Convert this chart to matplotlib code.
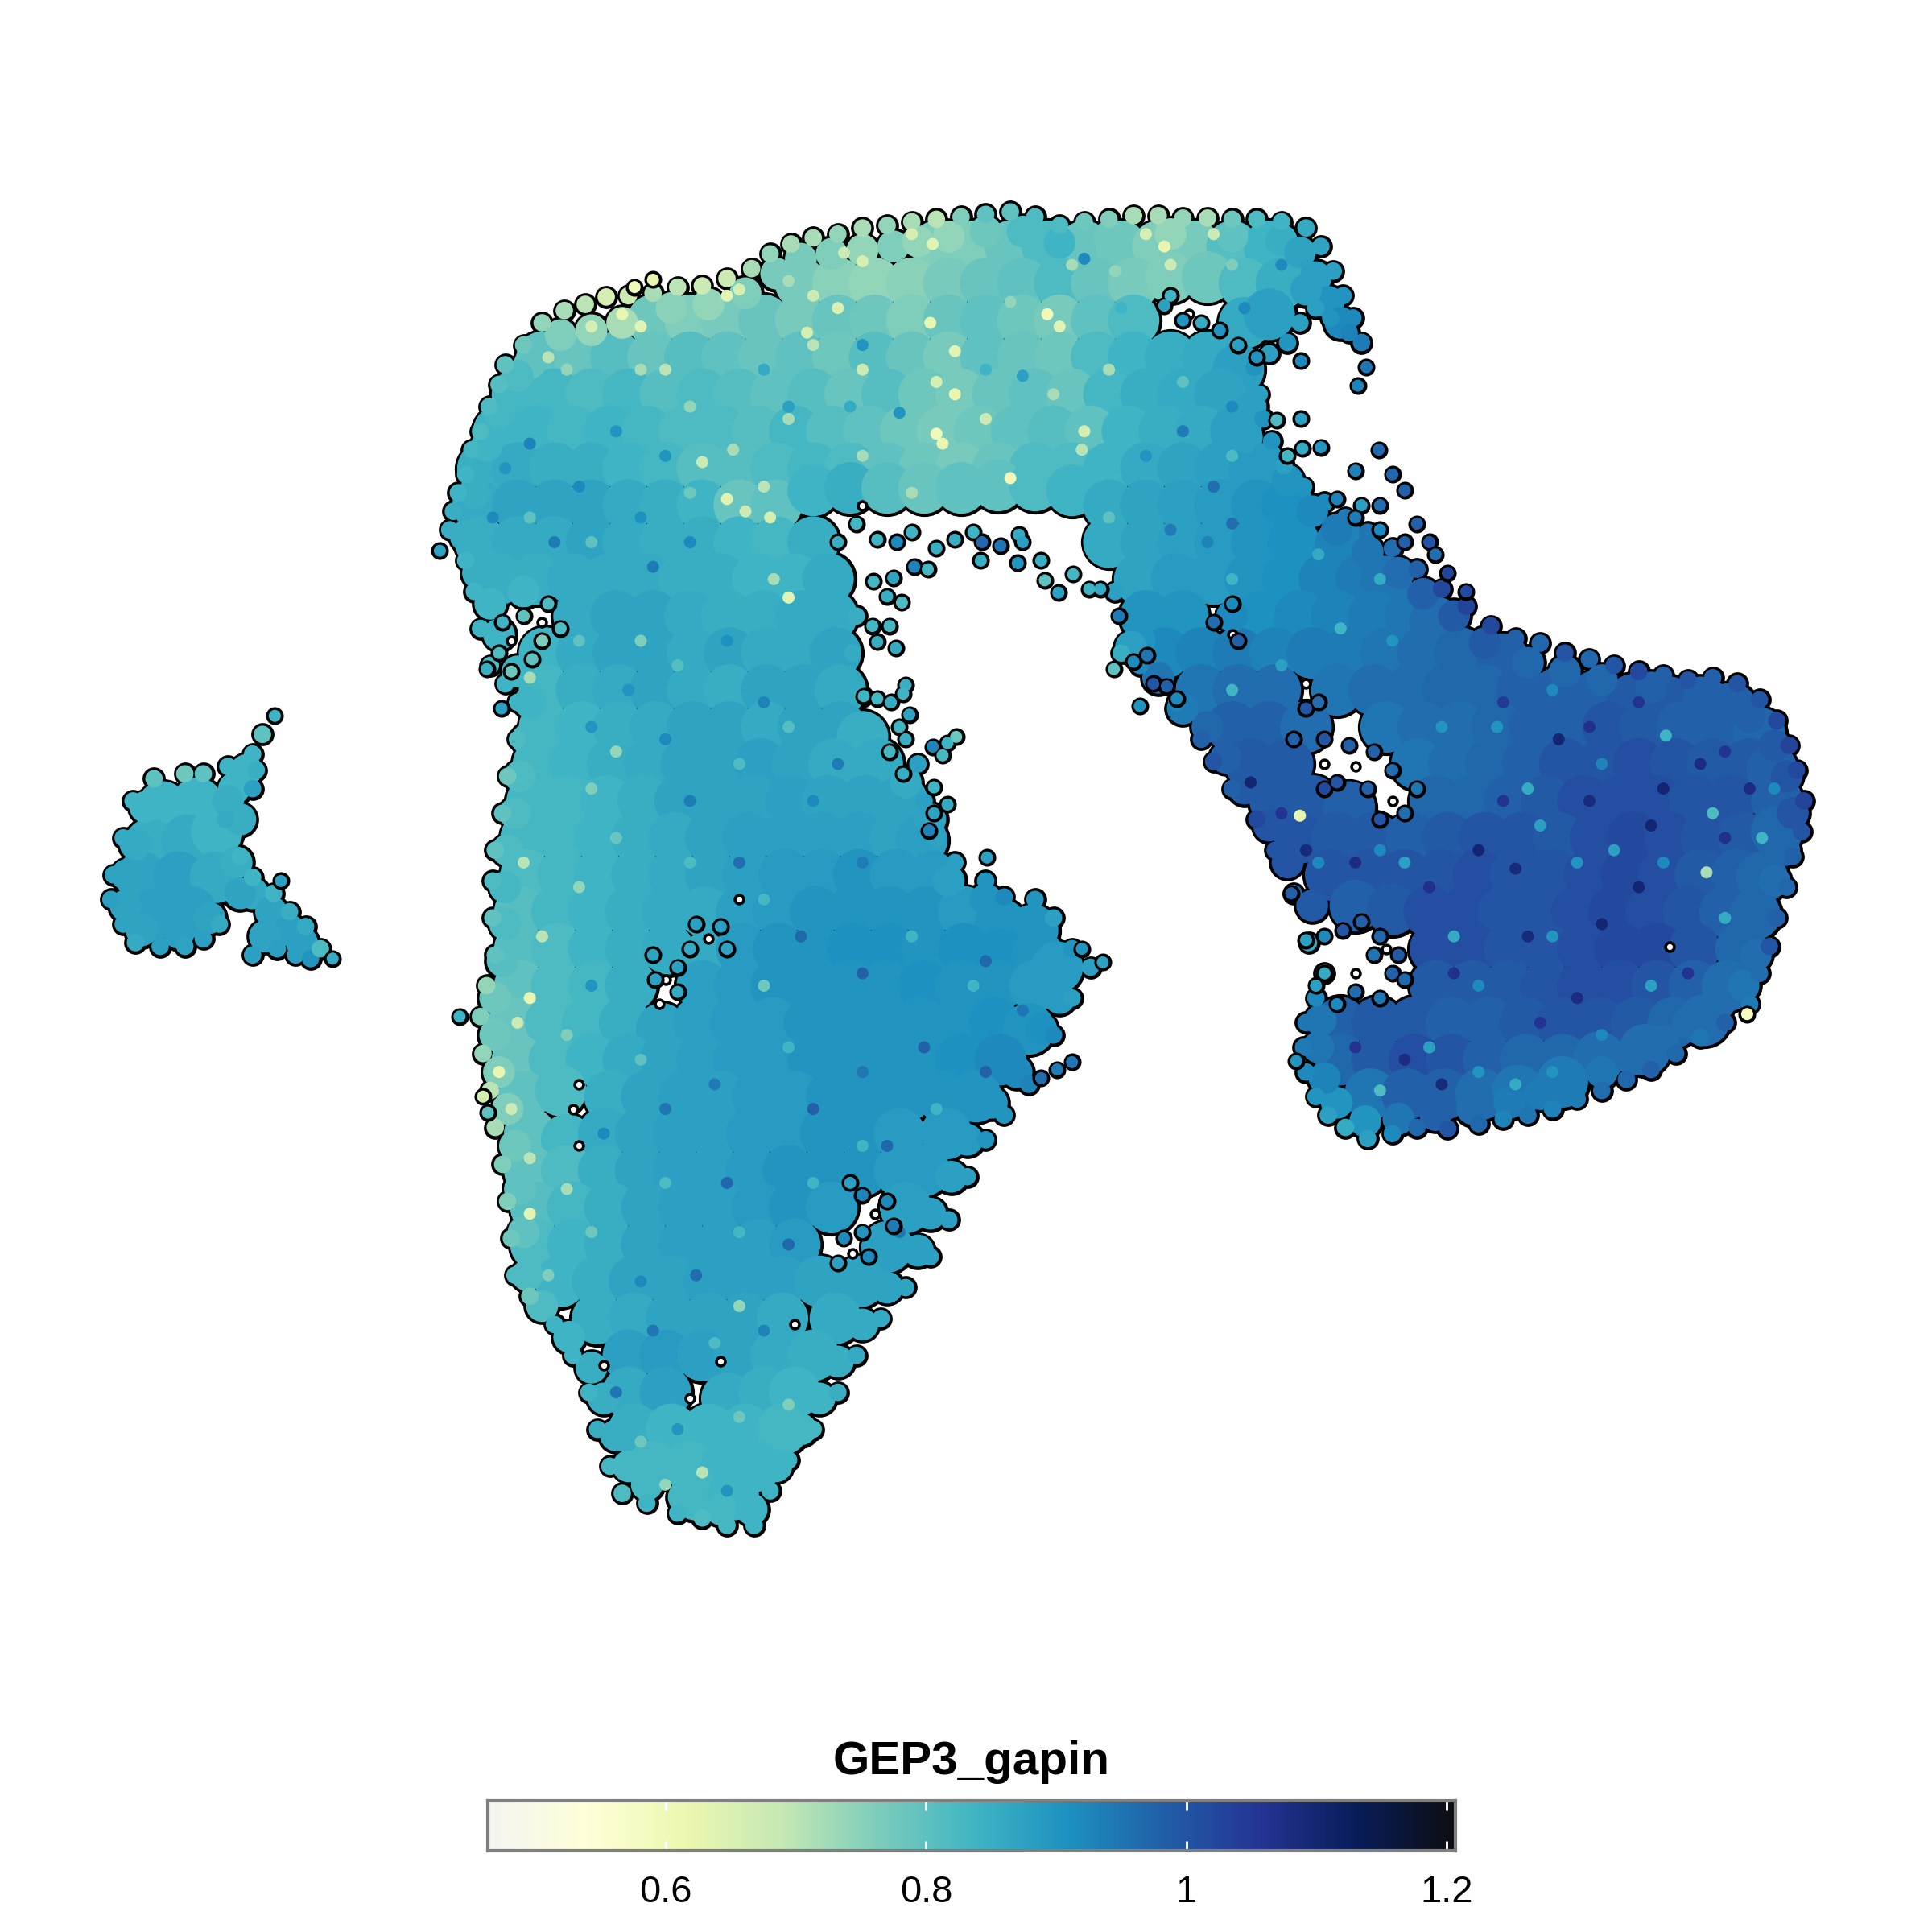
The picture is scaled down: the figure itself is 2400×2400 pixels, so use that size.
"""Feature plot of the GEP3_gapin score on an embedding, with a horizontal colour bar."""

import matplotlib

matplotlib.use("Agg")
import matplotlib.pyplot as plt
import numpy as np
from matplotlib.colors import LinearSegmentedColormap, Normalize

PALETTE = ["#f5f5f2", "#ffffd9", "#edf8b1", "#c7e9b4", "#7fcdbb", "#41b6c4",
           "#1d91c0", "#225ea8", "#253494", "#081d58", "#0e0e12"]
SCORE_MIN = 0.463
SCORE_MAX = 1.207
COLORBAR_TICKS = [0.6, 0.8, 1.0, 1.2]
COLORBAR_LABELS = ["0.6", "0.8", "1", "1.2"]
LEGEND_TITLE = "GEP3_gapin"

# Coarse read of the dense cell cloud, row by row: (x, y, score)
top_band = [
    (760,200,.76),(790,200,.76),(820,200,.79),(850,200,.82),(880,200,.79),(910,200,.78),(940,200,.76),(970,200,.77),(1000,200,.81),(1030,200,.84),
    (650,230,.77),(680,230,.75),(710,230,.74),(740,230,.75),(770,230,.77),(800,230,.79),(830,230,.8),(860,230,.82),(890,230,.79),(920,230,.77),(950,225,.76),(980,225,.78),(1010,230,.82),(1040,230,.85),
    (530,260,.78),(560,260,.76),(590,260,.77),(620,260,.79),(650,260,.77),(680,260,.79),(710,260,.78),(740,260,.76),(770,260,.79),(800,260,.8),(830,260,.78),(860,260,.77),(890,260,.8),(920,260,.82),(1010,262,.86),(1030,255,.88),
    (440,290,.8),(470,290,.79),(500,290,.81),(530,290,.79),(560,290,.81),(590,290,.8),(620,290,.79),(650,290,.8),(680,290,.78),(710,290,.81),(740,290,.79),(770,290,.77),(800,290,.8),(830,290,.79),(860,290,.78),(890,290,.82),(920,290,.84),(950,290,.85),(980,290,.86),(1005,300,.88),
    (420,320,.83),(450,320,.83),(480,320,.82),(510,320,.83),(540,320,.81),(570,320,.82),(600,320,.81),(630,320,.8),(660,320,.81),(690,320,.79),(720,320,.81),(750,320,.78),(780,320,.77),(810,320,.79),(840,320,.8),(870,320,.79),(900,320,.83),(930,320,.85),(960,320,.86),(990,320,.87),
    (405,350,.84),(435,350,.84),(465,350,.83),(495,350,.84),(525,350,.83),(555,350,.82),(585,350,.82),(615,350,.81),(645,350,.83),(675,350,.81),(705,350,.8),(735,350,.78),(765,350,.77),(795,350,.78),(825,350,.8),(855,350,.81),(885,350,.8),(915,350,.84),(945,350,.85),(975,350,.86),(1003,350,.88),
    (392,380,.85),(420,380,.86),(450,380,.85),(480,380,.85),(510,380,.84),(540,380,.83),(570,380,.81),(600,380,.81),(630,380,.82),(660,380,.83),(690,380,.82),(720,380,.8),(750,380,.78),(780,380,.77),(810,380,.79),(840,380,.82),(870,380,.82),(900,380,.84),(930,380,.86),(960,380,.87),(990,380,.88),(1018,382,.89),
    (388,410,.86),(420,410,.87),(450,410,.87),(480,410,.87),(510,410,.86),(540,410,.85),(570,410,.84),(600,410,.79),(630,410,.8),(660,398,.84),(690,396,.85),(720,396,.81),(750,396,.79),(780,396,.8),(810,394,.8),(840,394,.82),(870,398,.84),(900,410,.86),(930,410,.87),(960,410,.88),(990,410,.89),(1020,410,.9),(1045,410,.91),
]
left_limb = [
    (390,440,.85),(420,440,.86),(450,440,.86),(480,440,.87),(510,440,.86),(540,440,.85),(570,440,.85),(600,440,.84),(630,440,.83),(660,440,.85),
    (405,470,.85),(435,470,.85),(465,470,.86),(495,470,.86),(525,470,.86),(555,470,.85),(585,470,.85),(615,470,.84),(645,470,.84),(672,470,.86),
    (470,500,.86),(500,500,.87),(530,500,.87),(560,500,.86),(590,500,.85),(620,500,.85),(650,500,.86),(675,500,.86),
    (442,530,.84),(472,530,.86),(502,530,.87),(532,530,.87),(562,530,.86),(592,530,.87),(622,530,.86),(652,530,.86),(678,530,.87),
    (442,560,.83),(472,560,.85),(502,560,.86),(532,560,.87),(562,560,.86),(592,560,.85),(622,560,.87),(652,560,.87),(682,560,.86),
    (442,590,.83),(472,590,.84),(502,590,.85),(532,590,.86),(562,590,.87),(592,590,.87),(622,590,.86),(652,590,.87),(682,590,.87),(700,598,.85),
    (437,620,.83),(467,620,.84),(497,620,.85),(527,620,.86),(557,620,.87),(587,620,.87),(617,620,.88),(647,620,.87),(677,620,.86),(712,620,.86),
    (432,650,.83),(462,650,.83),(492,650,.84),(522,650,.85),(552,650,.87),(582,650,.87),(612,650,.87),(642,650,.88),(672,650,.87),(702,650,.87),(732,650,.87),
    (427,680,.83),(457,680,.83),(487,680,.84),(517,680,.85),(547,680,.86),(577,680,.87),(607,680,.88),(637,680,.88),(667,680,.88),(697,680,.88),(727,680,.87),(748,682,.88),
    (427,710,.82),(457,710,.83),(487,710,.84),(517,710,.85),(547,710,.86),(577,710,.87),(607,710,.88),(637,710,.89),(667,710,.89),(697,710,.9),(727,710,.89),(757,712,.89),
    (422,740,.81),(452,740,.83),(482,740,.84),(512,740,.85),(542,740,.86),(572,740,.86),(602,740,.88),(632,740,.89),(662,740,.9),(692,740,.9),(722,740,.9),(752,740,.9),(782,740,.89),(812,750,.9),(838,755,.9),
    (422,770,.81),(452,770,.82),(482,770,.84),(512,770,.85),(542,770,.86),(572,778,.86),(602,770,.89),(632,770,.9),(662,770,.9),(692,770,.91),(722,770,.91),(752,770,.9),(782,770,.91),(812,775,.91),(842,775,.9),(858,785,.89),
]
lower_body = [
    (422,800,.8),(452,800,.82),(482,800,.83),(512,800,.85),(570,800,.88),(600,800,.89),(630,800,.9),(660,800,.9),(690,800,.9),(720,800,.9),(750,800,.91),(780,800,.9),(810,800,.9),(840,800,.89),
    (417,830,.79),(447,830,.82),(477,830,.83),(507,830,.85),(537,835,.87),(567,830,.88),(597,830,.89),(627,830,.89),(657,830,.9),(687,830,.9),(717,830,.9),(747,830,.9),(777,830,.9),(807,830,.91),(835,835,.9),
    (420,860,.79),(450,860,.82),(480,860,.84),(510,860,.86),(540,860,.87),(570,860,.88),(600,860,.89),(630,860,.89),(660,860,.9),(690,860,.9),(720,860,.9),(750,860,.9),(780,860,.91),(812,860,.92),
    (425,890,.8),(455,885,.82),(495,890,.85),(525,890,.87),(555,890,.88),(585,890,.88),(615,890,.89),(645,890,.89),(675,890,.9),(705,890,.9),(735,890,.9),(765,890,.9),(792,890,.9),
    (430,920,.8),(460,925,.83),(490,920,.86),(520,920,.87),(550,920,.88),(580,920,.88),(610,920,.89),(640,920,.89),(670,920,.9),(700,920,.9),(730,920,.89),(768,920,.89),
    (430,950,.8),(460,950,.82),(490,950,.85),(520,950,.87),(550,950,.88),(580,950,.88),(610,950,.89),(640,950,.9),(670,950,.9),(700,950,.9),(730,950,.89),(750,950,.89),
    (435,980,.81),(465,980,.83),(495,980,.85),(525,980,.87),(555,980,.88),(585,980,.88),(615,980,.89),(645,980,.9),(675,980,.89),(735,980,.88),
    (435,1010,.82),(465,1010,.84),(495,1010,.85),(525,1010,.87),(555,1010,.88),(585,1010,.88),(615,1010,.88),(645,1010,.89),(720,1012,.88),
    (455,1040,.84),(485,1040,.85),(515,1040,.87),(545,1040,.87),(575,1040,.88),(605,1040,.88),(635,1040,.88),(665,1040,.87),(698,1040,.87),
    (485,1070,.85),(515,1070,.86),(545,1070,.87),(575,1070,.87),(605,1070,.87),(635,1070,.86),(678,1070,.86),
    (510,1100,.88),(540,1100,.89),(570,1100,.88),(600,1100,.87),(630,1100,.86),(660,1100,.85),
    (510,1130,.86),(540,1130,.88),(590,1135,.86),(620,1130,.85),(645,1130,.84),
    (515,1160,.85),(545,1160,.84),(575,1160,.84),(605,1160,.84),(635,1160,.83),
    (530,1190,.83),(560,1190,.83),(590,1190,.84),(613,1190,.84),
    (565,1213,.83),(595,1213,.84),
]
right_arc = [
    (900,440,.86),(930,440,.87),(960,440,.88),(990,440,.89),(1020,440,.9),(1050,440,.91),(1088,442,.93),
    (925,470,.87),(955,470,.89),(985,470,.89),(1015,470,.9),(1045,470,.91),(1075,470,.93),(1105,470,.94),(1125,472,.95),
    (930,500,.9),(960,500,.9),(1025,500,.91),(1055,500,.92),(1085,500,.93),(1115,500,.94),(1145,500,.95),(1165,505,.96),
    (945,530,.92),(975,530,.93),(1005,530,.94),(1035,530,.93),(1065,530,.94),(1095,530,.94),(1125,530,.95),(1155,530,.96),(1185,530,.97),(1220,535,.98),
    (975,560,.95),(1005,560,.96),(1035,560,.96),(1085,560,.95),(1115,560,.96),(1145,560,.96),(1175,560,.97),(1205,560,.97),(1235,560,.98),(1265,562,.98),(1295,565,.98),(1325,568,.99),(1355,570,.99),(1385,572,.98),(1405,575,.98),
    (1000,590,.98),(1030,590,.98),(1060,590,.96),(1125,590,.95),(1155,590,.96),(1185,590,.96),(1215,590,.97),(1245,590,.98),(1275,590,.98),(1305,590,1.0),(1335,590,.99),(1365,590,.98),(1395,590,.98),(1428,595,.97),
    (1015,620,.99),(1045,620,.99),(1150,620,.95),(1180,620,.96),(1210,620,.97),(1240,620,.98),(1270,620,1.0),(1300,620,1.0),(1330,620,1.01),(1360,620,1.0),(1390,620,.99),(1420,620,.99),(1438,625,.98),
    (1035,650,.99),(1065,650,.99),(1095,655,.98),(1165,650,.97),(1195,650,.97),(1225,650,.98),(1255,650,.99),(1285,650,1.01),(1315,650,1.01),(1345,650,1.01),(1375,650,1.0),(1405,650,1.0),(1442,650,.98),
    (1055,680,1.0),(1085,680,.99),(1115,680,.99),(1145,680,.98),(1175,680,.99),(1205,680,1.0),(1235,680,1.0),(1265,680,.99),(1295,680,1.01),(1325,680,1.02),(1355,680,1.01),(1385,680,1.0),(1415,680,.99),(1442,675,.97),
    (1080,710,1.0),(1110,710,1.0),(1140,710,1.0),(1170,710,1.0),(1200,710,1.01),(1230,710,1.0),(1260,710,1.0),(1290,710,1.01),(1320,710,1.02),(1350,710,1.01),(1380,710,.99),(1410,710,.98),(1430,712,.97),
    (1100,735,.98),(1130,738,.99),(1160,740,1.01),(1190,740,1.01),(1220,740,1.0),(1250,740,1.0),(1280,740,1.01),(1310,740,1.02),(1340,740,1.01),(1370,740,1.0),(1400,740,.98),(1424,742,.97),
    (1165,770,1.01),(1195,770,1.01),(1225,770,1.0),(1255,770,1.0),(1285,770,1.01),(1315,770,1.02),(1345,770,1.02),(1375,770,1.0),(1413,770,.97),
    (1165,800,.99),(1195,800,.99),(1225,800,.99),(1255,800,1.0),(1285,800,1.01),(1315,800,1.01),(1345,800,1.0),(1375,800,.98),(1402,800,.96),
    (1088,830,.98),(1118,830,.99),(1148,830,.99),(1178,830,.98),(1208,830,.98),(1238,830,.99),(1268,830,1.0),(1298,830,1.0),(1328,830,.99),(1358,830,.97),(1383,828,.96),
    (1088,860,.97),(1118,860,.99),(1148,860,1.01),(1178,860,1.0),(1208,860,.98),(1238,860,.97),(1268,860,.97),(1298,858,.96),(1335,852,.96),
    (1112,888,.95),(1142,888,.98),(1172,888,.98),(1202,888,.96),(1232,885,.95),(1268,878,.94),
]
island = [
    (132,655,.84),(160,652,.84),(122,685,.85),(152,682,.86),(176,675,.84),(115,712,.87),(145,712,.88),(175,712,.86),(125,742,.88),(155,740,.88),
]

# Second, finer pass just inside the boundary
inner_ring = [
    (455,272,.76),(480,268,.74),(505,262,.72),(430,295,.8),(420,305,.82),(405,335,.83),(395,362,.84),(385,400,.85),(378,435,.85),(388,465,.85),(398,490,.84),(405,515,.84),(425,480,.84),(420,545,.84),
    (545,250,.75),(575,247,.74),(605,238,.76),(630,222,.77),(650,210,.77),(675,206,.76),(700,203,.74),(725,200,.76),(745,196,.74),(770,192,.74),(800,188,.78),(830,188,.82),(860,197,.84),(900,192,.78),(950,190,.74),(1000,192,.8),(1040,195,.85),(1055,205,.87),(1068,225,.88),(1078,245,.9),(1088,262,.92),(1060,235,.88),
    (1015,330,.88),(1012,355,.88),(1028,372,.89),(1045,390,.9),(1065,415,.92),(1085,430,.94),(1110,448,.95),(1135,465,.96),(1155,482,.98),(1180,500,.99),(1205,522,.99),(1240,538,.97),(1270,545,.97),(1300,552,.97),(1340,558,.98),(1380,562,.98),(1420,582,.98),(1440,605,.99),(1450,630,1.0),(1455,660,1.0),(1448,690,.97),(1440,715,.96),(1432,745,.97),(1425,775,.96),(1415,800,.95),(1395,815,.96),(1370,830,.96),(1350,845,.96),(1325,860,.96),(1300,870,.95),(1275,880,.94),(1250,888,.94),(1225,895,.94),(1195,900,.96),(1165,905,.98),(1135,908,.95),(1108,910,.9),(1085,895,.9),(1075,875,.93),(1070,850,.95),(1072,828,.95),
    (1065,735,.99),(1045,700,1.0),(1030,670,1.0),(1010,640,.99),(995,615,.98),(980,590,.97),(960,575,.94),(940,550,.95),(925,520,.9),(918,525,.88),(1000,500,.92),
    (735,635,.86),(755,665,.87),(770,715,.88),(800,730,.9),(865,785,.89),(860,810,.89),(845,835,.91),(825,870,.92),(805,895,.9),(785,925,.89),(772,955,.88),(755,985,.88),(745,1015,.88),(720,1045,.87),(700,1075,.86),(680,1105,.85),(665,1135,.84),(650,1160,.83),(630,1190,.84),(610,1225,.84),(585,1225,.83),(555,1215,.83),(525,1205,.83),(510,1190,.83),(500,1165,.85),(490,1135,.85),(480,1110,.85),(462,1085,.84),(440,1060,.82),(428,1035,.82),(425,1000,.8),(422,965,.8),(418,930,.78),(412,900,.76),(405,870,.76),(402,840,.78),(402,810,.78),(408,780,.81),(410,750,.82),(410,720,.83),(412,690,.82),(418,660,.82),(422,630,.82),(428,600,.83),(430,570,.84),
    (200,625,.84),(190,640,.84),(118,655,.84),(110,685,.86),(103,710,.87),(102,735,.87),(115,755,.87),(145,757,.88),(170,745,.87),(192,700,.85),(205,725,.86),(220,740,.87),(235,755,.88),(215,760,.87),(245,765,.88),(195,725,.87),(185,650,.85),(195,665,.85),
]

# Cells along the cloud boundary, read one by one
outline = [
    (365,430,.85),(368,415,.85),(372,400,.84),(378,385,.84),(383,365,.83),(390,350,.82),(397,330,.82),(405,312,.81),(410,296,.8),(425,280,.78),(440,262,.74),(458,252,.72),(475,247,.7),(492,241,.66),(510,240,.68),(530,238,.72),(550,233,.7),(570,232,.68),(590,226,.68),(610,218,.72),(625,206,.74),(642,198,.72),(660,193,.72),(680,190,.74),(700,185,.72),(720,183,.74),(740,180,.72),(760,178,.7),(780,176,.76),(800,174,.8),(820,172,.8),(840,176,.82),(860,183,.82),(880,180,.78),(900,178,.76),(920,175,.72),(940,175,.72),(960,177,.74),(980,177,.72),(1000,178,.78),(1020,178,.82),(1040,180,.84),(1060,185,.86),(1072,200,.87),(1082,220,.88),(1090,240,.9),(1098,258,.92),(1105,278,.94),(1095,270,.93),(1080,258,.9),(1068,250,.88),(1055,262,.88),(1045,278,.9),(1030,287,.88),(1018,298,.9),(1022,320,.88),(1025,340,.9),(1032,358,.9),(1042,378,.88),(1058,395,.9),(1075,408,.92),(1092,420,.94),(1110,432,.95),(1130,445,.96),(1150,462,.98),(1170,478,1.02),(1190,492,1.03),(1210,508,1.02),(1230,518,.98),(1250,522,.97),(1270,530,1.0),(1290,535,.97),(1310,540,1.0),(1330,545,1.02),(1350,548,.98),(1370,552,1.0),(1390,550,.98),(1410,555,1.0),(1428,568,1.0),(1442,585,1.02),(1452,605,1.03),(1458,625,1.02),(1464,650,1.03),(1462,675,1.0),(1455,695,.98),(1450,720,.97),(1442,745,.98),(1436,768,1.0),(1428,790,.96),(1420,815,.94),(1400,830,.98),(1380,842,.95),(1360,855,.97),(1340,868,.98),(1320,876,.97),(1300,885,.96),(1280,892,.94),(1260,900,.93),(1240,905,.95),(1220,908,.93),(1200,912,.97),(1175,916,1.0),(1150,915,.97),(1130,920,.92),(1110,924,.88),(1092,915,.86),(1078,905,.88),(1068,890,.9),(1060,870,.92),(1058,850,.94),(1060,830,.95),
    (1068,810,.92),(1075,790,.88),(1062,765,.86),(1050,725,.98),(1035,690,1.0),(1020,665,1.02),(1000,640,.98),(985,618,1.0),(975,600,.98),(955,570,.92),(940,555,.96),(925,540,.92),(910,530,.85),(918,505,.9),(905,480,.88),
    (695,500,.85),(692,530,.86),(700,565,.84),(745,620,.88),(750,650,.88),(760,680,.87),(775,700,.88),(800,715,.9),(815,728,.92),(840,730,.9),(855,745,.88),(870,770,.9),(885,785,.88),(870,810,.88),(855,840,.92),(835,880,.93),(815,905,.9),(800,925,.9),(785,955,.88),(770,990,.88),(755,1020,.88),(735,1045,.87),(715,1070,.86),(695,1100,.86),(680,1130,.85),(660,1160,.83),(640,1185,.84),(625,1210,.84),(612,1238,.84),(590,1238,.83),(570,1232,.82),(550,1228,.84),(525,1220,.84),(505,1212,.82),(495,1190,.83),(485,1160,.85),(478,1130,.84),(465,1100,.84),(450,1075,.84),(430,1052,.78),(418,1035,.82),(415,1005,.78),(412,975,.76),(408,945,.76),(402,915,.72),(398,885,.7),(392,855,.74),(390,825,.76),(395,800,.74),(402,775,.8),(400,745,.8),(400,715,.82),(402,690,.8),(408,660,.8),(412,630,.78),(420,600,.82),(420,570,.84),(410,555,.84),(398,540,.82),(390,510,.84),(385,480,.84),(378,455,.84),
    (213,596,.8),(205,612,.84),(185,622,.84),(165,628,.8),(150,628,.78),(125,632,.8),(108,650,.84),(100,680,.86),(92,710,.87),(90,730,.88),(100,750,.87),(110,765,.86),(130,768,.88),(150,768,.87),(165,762,.88),(178,750,.86),(205,775,.88),(225,770,.88),(240,775,.88),(252,778,.9),(260,770,.82),(248,752,.86),(235,740,.85),(222,725,.84),(205,712,.84),(195,695,.84),(183,665,.86),(205,640,.88),(208,625,.85),
]

# Loose cells in the fringes and the strays around the cloud
strays = [
    (223,581,.84),(357,447,.87),(373,825,.84),(407,575,.88),(228,715,.88),(270,778,.86),(1056,293,.92),(1109,298,.95),(1102,313,.93),(1119,365,.97),(1072,363,.9),(1056,340,.88),(1036,341,.82),(1057,364,.86),(1045,370,.83),(530,227,.62),(515,233,.6),(392,890,.66),(396,903,.8),(801,696,.88),(870,862,.95),(858,868,.94),(845,875,.96),(1052,861,.9),(1048,725,.98),(878,770,.9),(895,781,.88),(1418,823,.58),
    (732,489,.82),(727,526,.86),(712,521,.85),(859,481,.88),(925,573,.9),(904,543,.8),(908,500,.94),(796,455,.85),(776,598,.78),(769,653,.86),(797,440,.97),(812,443,.95),(827,434,.86),(826,457,.9),(848,471,.8),(871,466,.83),(893,478,.86),(884,478,.84),(760,445,.85),(753,462,.83),(742,460,.93),(725,469,.87),(709,472,.83),(720,484,.85),(722,508,.83),(708,508,.83),(735,556,.85),(733,563,.84),(712,567,.83),(701,565,.84),(723,570,.86),(738,580,.87),(757,606,.93),(769,603,.84),(765,613,.83),(758,639,.84),(758,660,.87),(754,674,.93),(936,555,1.0),(947,557,.98),(955,567,.92),(920,537,.92),(931,532,.95),(735,600,.85),(722,610,.83),(733,628,.85),(730,590,.84),
    (680,440,.85),(695,425,.83),(712,438,.84),(728,440,.92),(740,432,.84),(845,455,.85),(830,440,.88),(790,432,.84),(775,438,.85),
    (1100,382,.93),(1130,385,.97),(1140,398,.98),(1120,410,.96),(1105,410,.88),(1085,405,.93),(1150,425,.98),(1160,440,1.0),(1175,465,1.03),(1190,480,1.02),(1140,440,.98),(1165,450,.96),(1120,430,.92),(1100,420,.94),
    (945,248,.88),(960,260,.9),(975,262,.86),(990,268,.9),(1005,280,.88),(1020,290,.9),(950,240,.84),
    (1060,763,.88),(1075,760,.92),(1090,755,1.0),(1105,748,.98),(1120,760,.97),(1135,775,.99),(1140,795,.97),(1120,810,.95),(1100,805,.96),(1085,815,.92),(1075,790,.86),(1068,800,.88),(1130,790,.98),(1115,775,.95),
    (405,530,.82),(415,545,.78),(395,543,.85),(408,505,.84),(425,500,.8),(440,520,.76),(445,490,.82),(432,535,.8),(455,510,.82),
    (1075,600,1.0),(1095,605,.98),(1115,610,.98),(1130,625,.96),(1150,640,.95),(1110,640,.98),(1085,635,1.0),(1075,640,1.02),(1140,660,.96),(1120,665,1.0),
    (985,505,.96),(1005,520,.98),(1000,490,.92),(1060,575,1.0),(1050,600,.98),(1070,570,.96),
    (532,795,.88),(550,805,.86),(530,775,.87),(550,785,.88),(565,750,.88),(585,752,.88),(590,770,.87),(560,770,.86),
    (700,970,.93),(720,975,.92),(725,995,.94),(700,1000,.9),(685,1005,.92),(705,1020,.92),(680,1025,.88),(690,960,.88),
]

# Brighter and darker single cells lying on top of the cloud
speckle = [
    (757,198,.64),(740,190,.66),(700,212,.66),(685,205,.68),(640,228,.72),(600,235,.66),(590,240,.63),(520,265,.64),(505,255,.62),(480,265,.66),(540,300,.7),(660,240,.68),(680,250,.65),(755,262,.62),(775,285,.64),(850,255,.6),(860,265,.64),(820,245,.74),(930,190,.66),(945,200,.62),(985,190,.68),(950,215,.68),(1000,215,.76),(870,215,.72),(905,220,.74),
    (660,280,.7),(655,270,.66),(700,300,.68),(760,310,.66),(775,320,.62),(800,340,.68),(765,360,.62),(760,352,.6),(820,388,.6),(700,370,.72),(620,395,.7),(590,405,.64),(605,415,.68),(625,420,.66),(880,350,.66),(878,365,.7),(900,300,.72),(570,375,.68),(595,365,.72),(640,340,.72),(520,300,.72),(460,300,.74),(445,290,.7),
    (640,485,.64),(628,470,.72),(500,350,.9),(430,360,.93),(470,395,.92),(560,440,.92),(520,420,.91),(450,440,.94),(400,420,.92),(640,330,.88),(700,280,.9),(730,335,.9),(830,305,.88),(880,210,.92),(1010,250,.92),(1040,215,.92),(1060,215,.88),(960,350,.94),(1000,330,.92),(985,395,.96),(1000,425,.96),(950,430,.94),
    (430,810,.62),(405,870,.62),(430,985,.64),(420,830,.68),(440,760,.7),(425,700,.7),(430,940,.7),(460,965,.72),(415,900,.68),(445,1035,.76),(430,550,.72),(470,720,.74),(500,610,.74),(480,640,.76),(520,520,.76),(570,1195,.7),(540,1205,.74),(640,1140,.76),(600,1060,.74),(620,800,.78),
    (560,650,.94),(600,700,.96),(650,760,.97),(700,790,.98),(750,850,.98),(660,900,.98),(720,930,.97),(590,960,.97),(640,1010,.97),(540,900,.95),(800,870,.98),(500,1130,.95),(530,1080,.95),(680,620,.94),(620,570,.93),(530,460,.94),(565,1035,.96),(730,1000,.95),(800,780,.97),
    (1385,708,.72),(1390,660,.82),(1240,640,.86),(1180,760,.86),(1055,662,.62),(1250,670,.88),(1352,597,.84),(1310,690,.88),(1280,700,.9),(1430,680,.84),(1400,745,.86),(1160,850,.88),(1230,880,.86),(1120,885,.82),(1140,700,.88),(1000,560,.84),(1120,470,.86),(1088,510,.84),(1340,800,.88),(1260,760,.9),
    (1265,600,1.1),(1350,640,1.1),(1300,750,1.1),(1200,690,1.1),(1015,635,1.1),(1240,760,1.09),(1380,620,1.08),(1330,720,1.1),(1170,880,1.09),(1140,860,1.08),(1290,650,1.09),(1420,640,1.08),(1230,705,1.09),(1180,790,1.07),(1100,700,1.08),(1060,690,1.09),(1280,810,1.08),(1340,670,1.1),(1400,680,1.07),(1290,590,1.07),
    (470,520,.8),(510,560,.9),(550,540,.81),(590,520,.91),(640,590,.81),(480,590,.9),(540,600,.92),(600,620,.82),(660,650,.92),(500,680,.79),(560,700,.82),(620,730,.83),(700,700,.94),(740,760,.84),(790,800,.84),(830,820,.95),(760,900,.84),(700,870,.95),(640,850,.84),(580,880,.94),(520,860,.8),(480,800,.9),(460,840,.76),(490,920,.92),(540,960,.82),(600,1000,.83),(660,960,.84),(700,930,.84),(480,1000,.78),(520,1040,.92),(580,1090,.82),(620,1080,.93),(550,1160,.9),(600,1150,.78),(520,1170,.78),(590,1210,.9),
    (1000,470,.84),(1040,540,.88),(980,440,.93),(1070,450,.86),(1130,520,.9),(1170,590,.9),(1220,570,1.05),(1260,560,.92),(1330,570,1.06),(1400,610,1.06),(1440,640,.92),(1350,700,.92),(1300,620,.93),(1220,650,1.06),(1160,720,1.07),(1120,690,.92),(1200,800,.92),(1250,830,1.06),(1300,840,.92),(1370,790,1.06),(1100,850,1.06),(1200,870,.9),(1260,870,.9),(1040,660,1.06),(1070,700,.92),
    (1215,590,.9),(480,440,.8),(430,420,.8),(410,380,.9),(540,370,.9),(560,400,.78),(800,300,.84),(910,250,.84),(960,310,.8),(1000,370,.82),(930,370,.9),(900,420,.8),(855,320,.72),(690,330,.86),(740,400,.72),(620,300,.86),(560,330,.74),
]

# Gaps in the cloud where only the cell outlines meet
gap_x = [540, 535, 575, 600, 465, 470, 710, 692, 560, 585, 490, 645, 415, 440, 1075, 1100, 1130, 1000, 1060, 700, 1100, 1355, 470, 965, 1125]
gap_y = [795, 815, 762, 730, 900, 880, 985, 1017, 1135, 1105, 1108, 1075, 520, 505, 620, 622, 650, 515, 555, 410, 790, 768, 930, 255, 770]

CORE_DIAMETER_PT = 15.4
RING_DIAMETER_PT = 9.5
EDGE_DIAMETER_PT = 5.2
CELL_DIAMETER_PT = 3.6
RIM_PT = 0.85


def scatter_cells(ax, points, diameter, cmap, norm, zorder):
    """Draw one layer of filled cells without a rim."""
    ax.scatter(points[:, 0], points[:, 1], s=diameter ** 2, c=points[:, 2],
               cmap=cmap, norm=norm, linewidths=0, zorder=zorder)


def scatter_rims(ax, points, diameter, zorder):
    """Draw the black disc that shows as a rim round a layer of cells."""
    ax.scatter(points[:, 0], points[:, 1], s=(diameter + 2 * RIM_PT) ** 2, c="black",
               linewidths=0, zorder=zorder)


def main():
    cmap = LinearSegmentedColormap.from_list("ylgnbu_ext", PALETTE)
    norm = Normalize(SCORE_MIN, SCORE_MAX)

    core = np.array(top_band + left_limb + lower_body + right_arc + island)
    ring = np.array(inner_ring)
    edge = np.array(outline)
    loose = np.array(strays)
    dots = np.array(speckle)

    fig = plt.figure(figsize=(8, 8), dpi=300)
    ax = fig.add_axes([0, 0, 1, 1])
    ax.set_xlim(0, 1568)
    ax.set_ylim(1568, 0)
    ax.axis("off")

    # black rims first so the fills merge into one cloud
    scatter_rims(ax, core, CORE_DIAMETER_PT, 1)
    scatter_rims(ax, ring, RING_DIAMETER_PT, 1)
    scatter_rims(ax, edge, EDGE_DIAMETER_PT, 1)
    scatter_cells(ax, core, CORE_DIAMETER_PT, cmap, norm, 2)
    scatter_cells(ax, ring, RING_DIAMETER_PT, cmap, norm, 2)
    scatter_cells(ax, edge, EDGE_DIAMETER_PT, cmap, norm, 2)
    ax.scatter(gap_x, gap_y, s=12, c="black", linewidths=0, zorder=3)
    ax.scatter(gap_x, gap_y, s=3, c="white", linewidths=0, zorder=3)
    scatter_cells(ax, dots, CELL_DIAMETER_PT, cmap, norm, 4)
    scatter_rims(ax, loose, CELL_DIAMETER_PT, 5)
    scatter_cells(ax, loose, CELL_DIAMETER_PT, cmap, norm, 6)

    cax = fig.add_axes([606 / 2400, 1 - 2299 / 2400, 1202 / 2400, 62 / 2400])
    gradient = np.linspace(SCORE_MIN, SCORE_MAX, 512).reshape(1, -1)
    cax.imshow(gradient, aspect="auto", cmap=cmap, norm=norm, extent=[SCORE_MIN, SCORE_MAX, 0, 1])
    cax.set_yticks([])
    cax.set_xticks(COLORBAR_TICKS)
    cax.set_xticklabels(COLORBAR_LABELS, fontsize=11.3, family="Liberation Sans")
    cax.tick_params(axis="x", direction="in", top=True, bottom=True, color="white",
                    length=2.8, width=0.7, pad=7.2)
    for spine in cax.spines.values():
        spine.set_color("#7f7f7f")
        spine.set_linewidth(1.0)
    cax.set_title(LEGEND_TITLE, fontsize=14, fontweight="bold", family="Liberation Sans", pad=8)

    fig.savefig("out.png", dpi=300)
    plt.close(fig)


if __name__ == "__main__":
    main()
